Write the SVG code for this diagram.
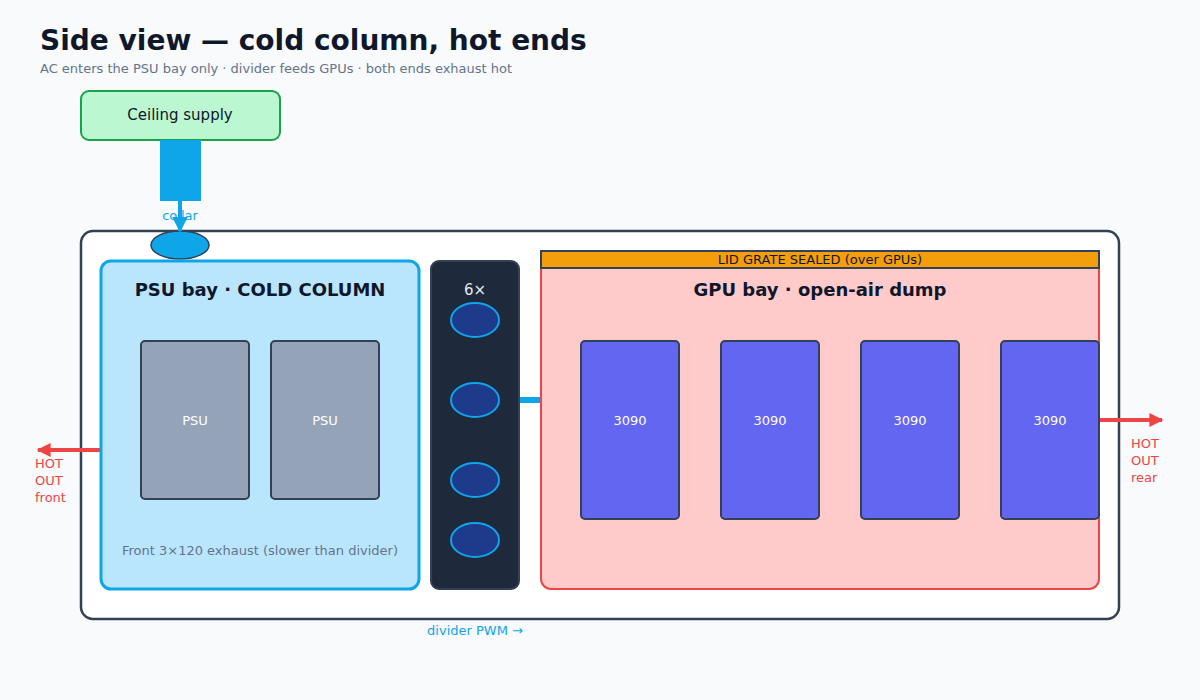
<svg xmlns="http://www.w3.org/2000/svg" width="1200" height="700" viewBox="0 0 1200 700">
<defs>
<style>
text{font-family:"DejaVu Sans","Noto Sans",sans-serif}
.title{font-size:28px;font-weight:bold;fill:#0f172a}
.sub{font-size:13px;fill:#64748b}
.bayt{font-size:18px;font-weight:bold;fill:#0f172a;text-anchor:middle}
.lbl{font-size:13px;fill:#ffffff;text-anchor:middle}
.gpu{fill:#6366f1;stroke:#334155;stroke-width:2}
.psu{fill:#94a3b8;stroke:#334155;stroke-width:2}
.fan{fill:#1e3a8a;stroke:#0ea5e9;stroke-width:2}
.hot{font-size:13px;fill:#ef4444}
.blue{font-size:13px;fill:#0ea5e9;text-anchor:middle}
</style>
<marker id="arB" viewBox="0 0 10 10" refX="9" refY="5" markerWidth="4" markerHeight="4" orient="auto"><path d="M0,0L10,5L0,10z" fill="#0ea5e9"/></marker>
<marker id="arR" viewBox="0 0 10 10" refX="9" refY="5" markerWidth="3.5" markerHeight="3.5" orient="auto"><path d="M0,0L10,5L0,10z" fill="#ef4444"/></marker>
</defs>
<rect width="1200" height="700" fill="#f8fafc"/>
<text class="title" x="40" y="50">Side view — cold column, hot ends</text>
<text class="sub" x="40" y="73">AC enters the PSU bay only · divider feeds GPUs · both ends exhaust hot</text>

<g id="ceiling">
<rect x="81" y="91" width="199" height="49" rx="8" fill="#bbf7d0" stroke="#16a34a" stroke-width="2"/>
<text x="180" y="120" font-size="15" fill="#0f172a" text-anchor="middle">Ceiling supply</text>
<rect x="160" y="140" width="41" height="61" fill="#0ea5e9"/>
</g>

<g id="chassis">
<rect x="81" y="231" width="1038" height="388" rx="12" fill="#ffffff" stroke="#334155" stroke-width="2.5"/>
</g>

<g id="collar">
<text class="blue" x="180" y="220" font-size="12">collar</text>
<ellipse cx="180" cy="245" rx="29" ry="14" fill="#0ea5e9" stroke="#334155" stroke-width="1.5"/>
</g>

<g id="psu-bay">
<rect x="101" y="261" width="318" height="328" rx="10" fill="#bae6fd" stroke="#0ea5e9" stroke-width="3"/>
<text class="bayt" x="260" y="296">PSU bay · COLD COLUMN</text>
<text class="sub" x="260" y="555" text-anchor="middle">Front 3×120 exhaust (slower than divider)</text>
</g>
<g id="psu1"><rect class="psu" x="141" y="341" width="108" height="158" rx="4"/><text class="lbl" x="195" y="425">PSU</text></g>
<g id="psu2"><rect class="psu" x="271" y="341" width="108" height="158" rx="4"/><text class="lbl" x="325" y="425">PSU</text></g>

<g id="divider">
<rect x="431" y="261" width="88" height="328" rx="8" fill="#1e293b" stroke="#334155" stroke-width="2"/>
<text x="475" y="295" font-size="15" fill="#e2e8f0" text-anchor="middle">6×</text>
<ellipse class="fan" cx="475" cy="320" rx="24" ry="17"/>
<ellipse class="fan" cx="475" cy="400" rx="24" ry="17"/>
<ellipse class="fan" cx="475" cy="480" rx="24" ry="17"/>
<ellipse class="fan" cx="475" cy="540" rx="24" ry="17"/>
</g>

<g id="gpu-bay">
<rect x="541" y="251" width="558" height="338" rx="10" fill="#fecaca" stroke="#ef4444" stroke-width="2"/>
<rect x="541" y="251" width="558" height="17" fill="#f59e0b" stroke="#334155" stroke-width="2"/>
<text x="820" y="264" font-size="13" fill="#0f172a" text-anchor="middle">LID GRATE SEALED (over GPUs)</text>
<text class="bayt" x="820" y="296">GPU bay · open-air dump</text>
</g>
<g id="gpu1"><rect class="gpu" x="581" y="341" width="98" height="178" rx="4"/><text class="lbl" x="630" y="425" font-size="14">3090</text></g>
<g id="gpu2"><rect class="gpu" x="721" y="341" width="98" height="178" rx="4"/><text class="lbl" x="770" y="425" font-size="14">3090</text></g>
<g id="gpu3"><rect class="gpu" x="861" y="341" width="98" height="178" rx="4"/><text class="lbl" x="910" y="425" font-size="14">3090</text></g>
<g id="gpu4"><rect class="gpu" x="1001" y="341" width="98" height="178" rx="4"/><text class="lbl" x="1050" y="425" font-size="14">3090</text></g>

<g id="connectors">
<line x1="180" y1="201" x2="180" y2="231" stroke="#0ea5e9" stroke-width="4" marker-end="url(#arB)"/>
<line x1="520" y1="400" x2="540" y2="400" stroke="#0ea5e9" stroke-width="6"/>
<line x1="100" y1="450" x2="38" y2="450" stroke="#ef4444" stroke-width="4" marker-end="url(#arR)"/>
<line x1="1100" y1="420" x2="1162" y2="420" stroke="#ef4444" stroke-width="4" marker-end="url(#arR)"/>
</g>

<g id="labels">
<text class="hot" x="35" y="468">HOT</text>
<text class="hot" x="35" y="485">OUT</text>
<text class="hot" x="35" y="502">front</text>
<text class="hot" x="1131" y="448">HOT</text>
<text class="hot" x="1131" y="465">OUT</text>
<text class="hot" x="1131" y="482">rear</text>
<text class="blue" x="475" y="635">divider PWM →</text>
</g>
</svg>
